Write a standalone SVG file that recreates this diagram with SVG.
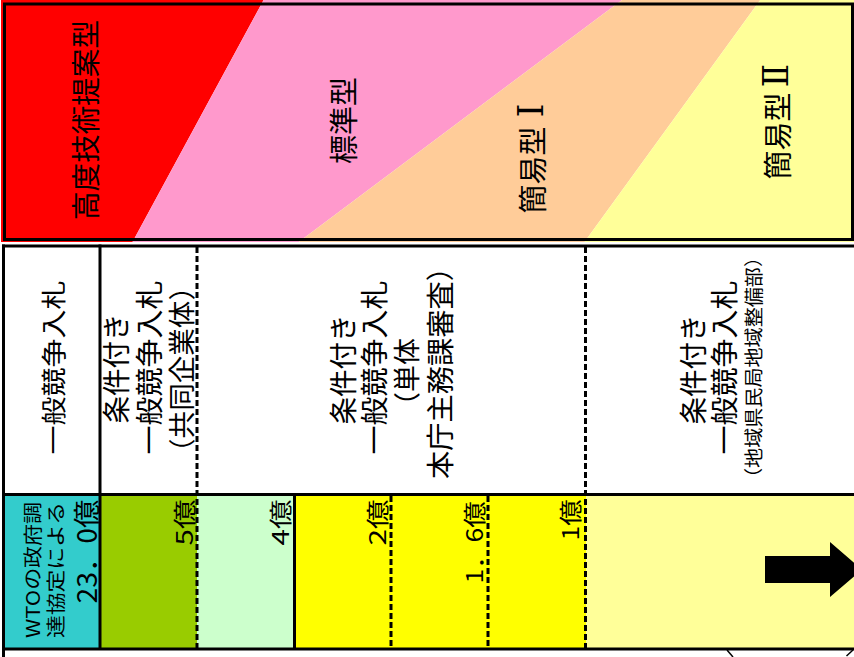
<svg xmlns="http://www.w3.org/2000/svg" width="854" height="657" viewBox="0 0 854 657">
<style>
.t{font-family:'Noto Sans CJK JP','Noto Sans',sans-serif;fill:#000;dominant-baseline:central;text-anchor:middle}
.r{font-family:'DejaVu Serif','Liberation Serif','Noto Sans CJK JP',serif;fill:#000;dominant-baseline:central;text-anchor:middle}
.ln{stroke:#000;stroke-width:3;fill:none}
.ds{stroke:#000;stroke-width:3;fill:none;stroke-dasharray:6 3}
</style>
<rect width="854" height="657" fill="#fff"/>
<g id="bands">
<polygon points="1,0 263.6,0 132.5,242 1,242" fill="#FF0000"/>
<polygon points="263.6,0 622,0 298.7,242 132.5,242" fill="#FF99CC"/>
<polygon points="622,0 760.2,0 584.5,242 298.7,242" fill="#FFCC99"/>
<polygon points="760.2,0 854,0 854,242 584.5,242" fill="#FFFF99"/>
<rect x="4.5" y="4" width="848" height="235.5" class="ln"/>
</g>
<g id="label-koudo"><text class="t" font-size="29" transform="translate(84,120) rotate(-90)" textLength="200" lengthAdjust="spacingAndGlyphs">高度技術提案型</text></g>
<g id="label-hyoujun"><text class="t" font-size="29" transform="translate(342,120.5) rotate(-90)">標準型</text></g>
<g id="label-kan1"><text class="t" font-size="29" transform="translate(531,170) rotate(-90)">簡易型</text><text class="r" font-size="35" transform="translate(531,110.5) rotate(-90)">Ⅰ</text></g>
<g id="label-kan2"><text class="t" font-size="29" transform="translate(776,136) rotate(-90)">簡易型</text><text class="r" font-size="35" transform="translate(776,75.5) rotate(-90)">Ⅱ</text></g>
<g id="row3-fills">
<rect x="3" y="494" width="97" height="155" fill="#33CCCC"/>
<rect x="100" y="494" width="97" height="155" fill="#99CC00"/>
<rect x="197" y="494" width="97" height="155" fill="#CCFFCC"/>
<rect x="294" y="494" width="292" height="155" fill="#FFFF00"/>
<rect x="586" y="494" width="268" height="155" fill="#FFFF99"/>
</g>
<g id="grid">
<line x1="2" y1="246" x2="854" y2="246" class="ln"/>
<line x1="2" y1="494.5" x2="854" y2="494.5" class="ln"/>
<line x1="2" y1="649" x2="854" y2="649" class="ln"/>
<line x1="3.5" y1="244.5" x2="3.5" y2="657" class="ln"/>
<line x1="100" y1="244.5" x2="100" y2="650" class="ln"/>
<line x1="294.5" y1="494" x2="294.5" y2="650" class="ln"/>
<line x1="197" y1="247" x2="197" y2="648" class="ds"/>
<line x1="585.5" y1="247" x2="585.5" y2="648" class="ds"/>
<line x1="391" y1="496" x2="391" y2="648" class="ds"/>
<line x1="488" y1="496" x2="488" y2="648" class="ds"/>
<line x1="727" y1="650" x2="733" y2="657" stroke="#000" stroke-width="1.5"/>
<line x1="853" y1="650" x2="846.5" y2="656" stroke="#000" stroke-width="1.5"/>
</g>
<g id="cell-ippan"><text class="t" font-size="25" transform="translate(52,367.5) rotate(-90)" textLength="174" lengthAdjust="spacingAndGlyphs">一般競争入札</text></g>
<g id="cell-jv">
<text class="t" font-size="28" transform="translate(115,368.5) rotate(-90)" textLength="110" lengthAdjust="spacingAndGlyphs">条件付き</text>
<text class="t" font-size="28" transform="translate(148,367.5) rotate(-90)" textLength="174" lengthAdjust="spacingAndGlyphs">一般競争入札</text>
<text class="t" font-size="27" transform="translate(180,369.5) rotate(-90)" textLength="193" lengthAdjust="spacingAndGlyphs">（共同企業体）</text>
</g>
<g id="cell-tantai">
<text class="t" font-size="28" transform="translate(342,369.5) rotate(-90)" textLength="110" lengthAdjust="spacingAndGlyphs">条件付き</text>
<text class="t" font-size="28" transform="translate(373,367.5) rotate(-90)" textLength="174" lengthAdjust="spacingAndGlyphs">一般競争入札</text>
<text class="t" font-size="27" transform="translate(405,378.5) rotate(-90)" textLength="81" lengthAdjust="spacingAndGlyphs">（単体</text>
<text class="t" font-size="28" transform="translate(439,366) rotate(-90)" textLength="226" lengthAdjust="spacingAndGlyphs">本庁主務課審査）</text>
</g>
<g id="cell-chiiki">
<text class="t" font-size="28" transform="translate(692,369.5) rotate(-90)" textLength="110" lengthAdjust="spacingAndGlyphs">条件付き</text>
<text class="t" font-size="28" transform="translate(723,367.5) rotate(-90)" textLength="174" lengthAdjust="spacingAndGlyphs">一般競争入札</text>
<text class="t" font-size="19" transform="translate(752,367.5) rotate(-90)" textLength="241" lengthAdjust="spacingAndGlyphs">（地域県民局地域整備部）</text>
</g>
<g id="cell-wto">
<text class="t" font-size="19" transform="translate(31,570) rotate(-90)" textLength="136" lengthAdjust="spacingAndGlyphs">WTOの政府調</text>
<text class="t" font-size="19" transform="translate(54,570) rotate(-90)" textLength="136" lengthAdjust="spacingAndGlyphs">達協定による</text>
<text class="t" font-size="27" transform="translate(85.5,551.5) rotate(-90)" textLength="104" lengthAdjust="spacingAndGlyphs">23．0億</text>
</g>
<g id="cell-5oku"><text class="t" font-size="23" transform="translate(182.5,522.5) rotate(-90)" textLength="46" lengthAdjust="spacingAndGlyphs">5億</text></g>
<g id="cell-4oku"><text class="t" font-size="23" transform="translate(279,522.5) rotate(-90)" textLength="46" lengthAdjust="spacingAndGlyphs">4億</text></g>
<g id="cell-2oku"><text class="t" font-size="23" transform="translate(376,522.5) rotate(-90)" textLength="46" lengthAdjust="spacingAndGlyphs">2億</text></g>
<g id="cell-16oku"><text class="t" font-size="23" transform="translate(473,542.5) rotate(-90)" textLength="82" lengthAdjust="spacingAndGlyphs">1．6億</text></g>
<g id="cell-1oku"><text class="t" font-size="23" transform="translate(569,520) rotate(-90)" textLength="41" lengthAdjust="spacingAndGlyphs">1億</text></g>
<g id="arrow"><polygon points="765,556 830,556 830,542 862,569.5 830,597 830,583 765,583" fill="#000"/></g>
</svg>
